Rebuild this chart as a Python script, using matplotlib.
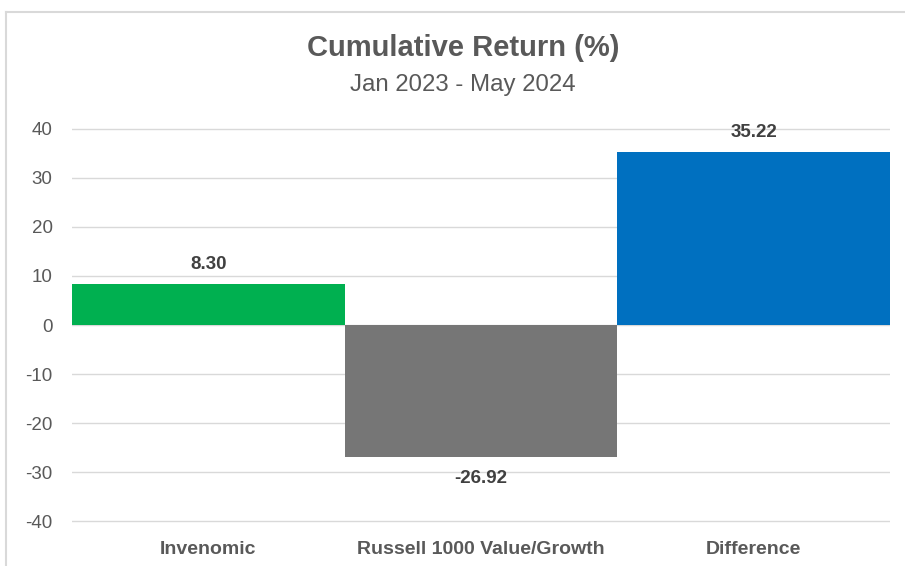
import matplotlib
matplotlib.use("Agg")
import matplotlib.pyplot as plt
from matplotlib.lines import Line2D

categories = ["Invenomic", "Russell 1000 Value/Growth", "Difference"]
values = [8.30, -26.92, 35.22]
colors = ["#00B050", "#767676", "#0070C0"]
yticks = [40, 30, 20, 10, 0, -10, -20, -30, -40]

plt.rcParams['font.family'] = ['Liberation Sans', 'DejaVu Sans']
plt.rcParams['axes.unicode_minus'] = False

W, H = 905, 566
fig = plt.figure(figsize=(W/100, H/100), dpi=100)
fig.patch.set_facecolor("white")

# outer frame (top and left visible)
fig.add_artist(Line2D([6/W, 6/W], [0, 1-12/H], transform=fig.transFigure, color="#D9D9D9", lw=1.5))
fig.add_artist(Line2D([6/W, 1], [1-12/H, 1-12/H], transform=fig.transFigure, color="#D9D9D9", lw=1.5))

x0, x1 = 72, 890
y_top, y_bot = 127, 523
ax = fig.add_axes([x0/W, 1-y_bot/H, (x1-x0)/W, (y_bot-y_top)/H])
ax.set_xlim(-0.5, 2.5)
ax.set_ylim(-40.4, 40.4)

ax.set_yticks(yticks)
ax.yaxis.grid(True, color="#D9D9D9", lw=1)
ax.set_axisbelow(True)
for s in ax.spines.values():
    s.set_visible(False)
ax.tick_params(axis="y", length=0, labelsize=13.5, labelcolor="#595959", pad=14)
ax.tick_params(axis="x", length=0, labelsize=14, labelcolor="#595959", pad=13)

xs = list(range(len(categories)))
ax.bar(xs, values, width=1.0, color=colors, zorder=2)
ax.set_xticks(xs)
ax.set_xticklabels(categories, fontweight="bold")

for x, v in zip(xs, values):
    off = 4.1 if v >= 0 else -4.4
    ax.text(x, v + off, f"{v:.2f}", ha="center", va="center",
            fontsize=13.5, fontweight="bold", color="#404040")

fig.text(463/W, 1-48/H, "Cumulative Return (%)", ha="center", va="center",
         fontsize=21, fontweight="bold", color="#595959")
fig.text(463/W, 1-85/H, "Jan 2023 - May 2024", ha="center", va="center",
         fontsize=17.3, color="#595959")

fig.savefig("out.png", dpi=100, facecolor="white")
